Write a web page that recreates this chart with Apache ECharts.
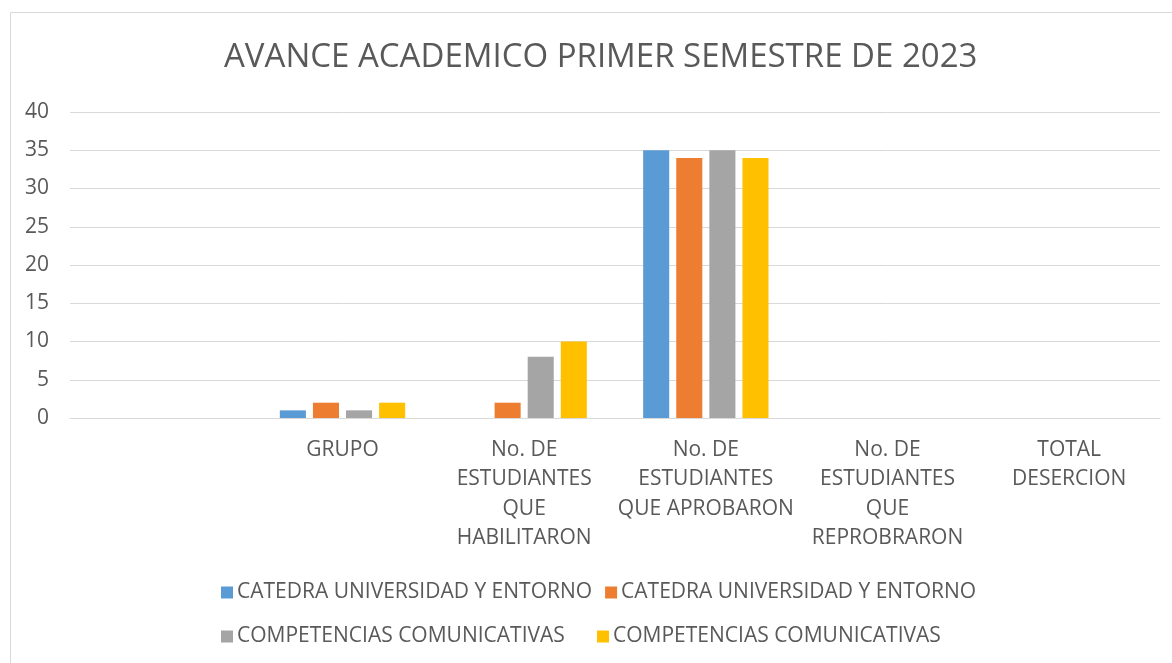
<!DOCTYPE html>
<html>
<head>
<meta charset="utf-8">
<script src="https://cdn.jsdelivr.net/npm/echarts@6/dist/echarts.min.js"></script>
<style>
  html, body { margin: 0; padding: 0; background: #fff; }
  #chart { width: 1172px; height: 663px; }
</style>
</head>
<body>
<div id="chart"></div>
<script>
// ----------------------
// DATA
// ----------------------
const categories = [
  "",
  "GRUPO",
  "No. DE\nESTUDIANTES\nQUE\nHABILITARON",
  "No. DE\nESTUDIANTES\nQUE APROBARON",
  "No. DE\nESTUDIANTES\nQUE\nREPROBRARON",
  "TOTAL\nDESERCION",
];

// names repeat in the legend, a trailing space keeps them apart
const seriesNames = [
  "CATEDRA UNIVERSIDAD Y ENTORNO",
  "CATEDRA UNIVERSIDAD Y ENTORNO ",
  "COMPETENCIAS COMUNICATIVAS",
  "COMPETENCIAS COMUNICATIVAS ",
];

const catedra1 = [null, 1, 0, 35, 0, 0];
const catedra2 = [null, 2, 2, 34, 0, 0];
const competencias1 = [null, 1, 8, 35, 0, 0];
const competencias2 = [null, 2, 10, 34, 0, 0];

const yTicks = [0, 5, 10, 15, 20, 25, 30, 35, 40];

const colors = ["#5b9bd5", "#ed7d31", "#a5a5a5", "#ffc000"];

// ----------------------
// CHART
// ----------------------
const FONT = "Open Sans";
const TEXT = "#595959";

const chart = echarts.init(document.getElementById("chart"));

const values = [catedra1, catedra2, competencias1, competencias2];

chart.setOption({
  animation: false,
  color: colors,
  textStyle: { fontFamily: FONT, color: TEXT },
  title: {
    text: "AVANCE ACADEMICO PRIMER SEMESTRE DE 2023",
    left: 219,
    top: 36,
    textStyle: { fontFamily: FONT, fontSize: 33, fontWeight: "normal", color: TEXT },
  },
  graphic: [
    {
      type: "rect",
      shape: { x: 10.5, y: 12.5, width: 1180, height: 680 },
      style: { fill: "none", stroke: "#d9d9d9", lineWidth: 1 },
      silent: true,
    },
  ],
  grid: { left: 70, right: 12, top: 112, bottom: 245 },
  legend: {
    left: 216,
    top: 572,
    width: 800,
    itemWidth: 12,
    itemHeight: 12,
    itemGap: 13,
    icon: "rect",
    data: seriesNames,
    textStyle: {
      fontFamily: FONT,
      fontSize: 21,
      color: TEXT,
      width: 347,
      lineHeight: 31,
      padding: [0, 0, 0, -1],
    },
  },
  xAxis: {
    type: "category",
    data: categories,
    axisLine: { lineStyle: { color: "#d9d9d9", width: 1 } },
    axisTick: { show: false },
    axisLabel: {
      interval: 0,
      margin: 17,
      fontFamily: FONT,
      fontSize: 21,
      lineHeight: 29.5,
      color: TEXT,
    },
  },
  yAxis: {
    type: "value",
    min: yTicks[0],
    max: yTicks[yTicks.length - 1],
    interval: 5,
    axisLine: { show: false },
    axisTick: { show: false },
    splitLine: { lineStyle: { color: "#d9d9d9", width: 1 } },
    axisLabel: { margin: 21, fontFamily: FONT, fontSize: 21, color: TEXT },
  },
  series: seriesNames.map((name, i) => ({
    name: name,
    type: "bar",
    data: values[i],
    barGap: "27%",
    barCategoryGap: "31%",
  })),
});
</script>
</body>
</html>
